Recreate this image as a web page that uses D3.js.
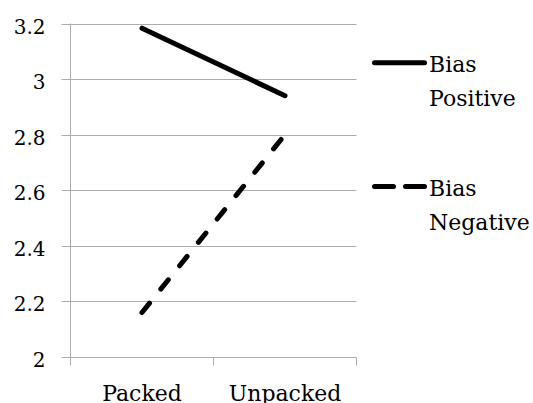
<!DOCTYPE html>
<html>
<head>
<meta charset="utf-8">
<script src="https://cdn.jsdelivr.net/npm/d3@7"></script>
<style>
  html, body { margin: 0; padding: 0; background: #fff; }
  svg { display: block; }
  text { font-family: "DejaVu Serif", serif; fill: #000; }
</style>
</head>
<body>
<svg id="chart" width="533" height="403"></svg>
<script>
const categories = ["Packed", "Unpacked"];
const seriesNames = ["Bias Positive", "Bias Negative"];
const biasPositive = [3.183, 2.94];
const biasNegative = [2.16, 2.80];
const yTicks = [2, 2.2, 2.4, 2.6, 2.8, 3, 3.2];
const yTickLabels = ["2", "2.2", "2.4", "2.6", "2.8", "3", "3.2"];

(function () {
const svg = d3.select("#chart");
const pLeft = 70.5, pRight = 356.5, pTop = 23.5, pBottom = 357;

const x = d3.scaleBand().domain(categories).range([pLeft, pRight]).padding(0);
const y = d3.scaleLinear().domain([2, 3.2]).range([pBottom, pTop]);

// gridlines
svg.append("g").selectAll("line").data(yTicks.slice(1)).join("line")
  .attr("x1", pLeft).attr("x2", pRight)
  .attr("y1", d => Math.round(y(d)) + 0.5).attr("y2", d => Math.round(y(d)) + 0.5)
  .attr("stroke", "#ababab").attr("stroke-width", 1);

// y axis
const yAxis = d3.axisLeft(y).tickValues(yTicks)
  .tickFormat((d, i) => yTickLabels[i]).tickSize(9).tickPadding(0);
const gy = svg.append("g").attr("transform", `translate(${pLeft},0)`).call(yAxis);
gy.select(".domain").attr("stroke", "#ababab").attr("d", `M0,${pTop}V${pBottom}`);
gy.selectAll(".tick line").attr("stroke", "#ababab");
gy.selectAll(".tick").attr("transform", d => `translate(0,${Math.round(y(d)) + 0.5})`);
gy.selectAll(".tick text")
  .attr("x", -25).attr("dy", null).attr("y", 9)
  .attr("text-anchor", "end")
  .style("font-size", "20px").style("font-family", "'DejaVu Serif', serif").attr("fill", "#000");

// x axis
const xAxis = d3.axisBottom(x).tickSize(0).tickSizeOuter(0);
const gx = svg.append("g").attr("transform", `translate(0,${Math.round(pBottom) + 0.5})`).call(xAxis);
gx.select(".domain").attr("stroke", "#ababab").attr("d", `M${pLeft},0H${pRight}`);
gx.selectAll(".tick text").attr("y", 43).attr("dy", null)
  .style("font-size", "22px").style("font-family", "'DejaVu Serif', serif").attr("fill", "#000");
const seps = [pLeft, ...categories.slice(1).map(c => x(c)), pRight];
gx.append("g").selectAll("line").data(seps).join("line")
  .attr("x1", d => d).attr("x2", d => d).attr("y1", 0).attr("y2", 8)
  .attr("stroke", "#ababab");

// lines
const cx = c => x(c) + x.bandwidth() / 2;
const line = d3.line().x((d, i) => cx(categories[i])).y(d => y(d));
svg.append("path").datum(biasPositive).attr("d", line)
  .attr("fill", "none").attr("stroke", "#000").attr("stroke-width", 5)
  .attr("stroke-linecap", "round");
svg.append("path").datum(biasNegative).attr("d", line)
  .attr("fill", "none").attr("stroke", "#000").attr("stroke-width", 5)
  .attr("stroke-linecap", "round").attr("stroke-dasharray", "12,18");

// legend
const legend = svg.append("g");
const legItems = [
  { name: seriesNames[0], dash: null, ly: 62.7, ty: 72.3 },
  { name: seriesNames[1], dash: "19,12", ly: 186.5, ty: 196 }
];
legItems.forEach(it => {
  legend.append("line").attr("x1", 374.5).attr("x2", 424.5)
    .attr("y1", it.ly).attr("y2", it.ly)
    .attr("stroke", "#000").attr("stroke-width", 5).attr("stroke-linecap", "round")
    .attr("stroke-dasharray", it.dash);
  const words = it.name.split(" ");
  const t = legend.append("text").attr("x", 429).attr("y", it.ty).style("font-size", "22px");
  words.forEach((w, i) => {
    t.append("tspan").attr("x", 429).attr("dy", i === 0 ? 0 : 33.5).text(w);
  });
});
})();
</script>
</body>
</html>
